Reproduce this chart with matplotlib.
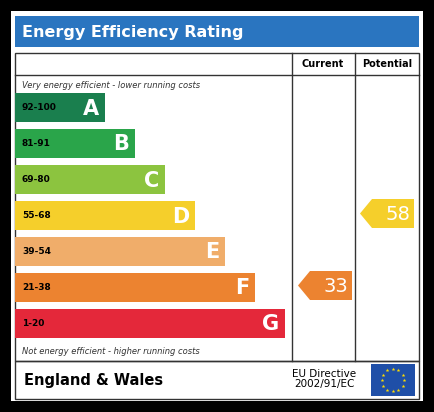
import matplotlib.pyplot as plt
from matplotlib.patches import Rectangle, Polygon
import numpy as np

bands = ['A', 'B', 'C', 'D', 'E', 'F', 'G']
ranges = ['92-100', '81-91', '69-80', '55-68', '39-54', '21-38', '1-20']
colors = ['#1a7f4e', '#2aa54a', '#8cc43f', '#f5cf2b', '#f0ad6a', '#ec8330', '#e4283a']
current = 33
potential = 58
cur_band = 5   # F
pot_band = 3   # D

fig = plt.figure(figsize=(4.35, 4.12), dpi=100)
fig.patch.set_facecolor('black')
ax = fig.add_axes([0, 0, 1, 1])
ax.set_xlim(0, 435)
ax.set_ylim(412, 0)
ax.axis('off')

# outer white panel
ax.add_patch(Rectangle((11, 11), 412, 390, fc='white', ec='none'))
# title bar
ax.add_patch(Rectangle((15, 16), 404, 31, fc='#2a75c0', ec='none'))
ax.text(22, 32, 'Energy Efficiency Rating', color='white', fontsize=11.5,
        fontweight='bold', va='center', ha='left')

# table frame
lc = '#333333'
ax.add_patch(Rectangle((15, 53), 404, 308, fc='none', ec=lc, lw=1))
ax.add_patch(Rectangle((15, 361), 404, 38, fc='none', ec=lc, lw=1))
ax.plot([15, 419], [75, 75], color=lc, lw=1)
for x in [292, 355]:
    ax.plot([x, x], [53, 361], color=lc, lw=1)
ax.text(323, 64, 'Current', fontsize=7, fontweight='bold', ha='center', va='center')
ax.text(387, 64, 'Potential', fontsize=7, fontweight='bold', ha='center', va='center')

ax.text(22, 85, 'Very energy efficient - lower running costs', fontsize=6,
        style='italic', color='#333333', va='center')
ax.text(22, 351, 'Not energy efficient - higher running costs', fontsize=6,
        style='italic', color='#333333', va='center')

top0, step, h = 93, 36, 29
for i, (b, r, c) in enumerate(zip(bands, ranges, colors)):
    y = top0 + i * step
    right = 105 + i * 30
    ax.add_patch(Rectangle((15, y), right - 15, h, fc=c, ec='none'))
    ax.text(22, y + h / 2, r, fontsize=6.5, fontweight='bold', va='center')
    ax.text(right - 6, y + h / 2 + 1, b, fontsize=15, fontweight='bold',
            color='white', ha='right', va='center')

def arrow(x0, x1, band, val, col):
    y = top0 + band * step - 2
    pts = [(x0, y + h / 2), (x0 + 12, y), (x1, y), (x1, y + h), (x0 + 12, y + h)]
    ax.add_patch(Polygon(pts, closed=True, fc=col, ec='none'))
    ax.text(x1 - 4, y + h / 2 + 1, str(val), fontsize=14, color='white',
            ha='right', va='center')

arrow(298, 352, cur_band, current, colors[cur_band])
arrow(360, 414, pot_band, potential, colors[pot_band])

ax.text(24, 380, 'England & Wales', fontsize=10.5, fontweight='bold', va='center')
ax.text(324, 379, 'EU Directive\n2002/91/EC', fontsize=7.5, ha='center',
        va='center', linespacing=1.1)
ax.add_patch(Rectangle((371, 364), 44, 32, fc='#1f4fa8', ec='none'))
ang = np.linspace(0, 2 * np.pi, 12, endpoint=False)
ax.scatter(393 + 11 * np.cos(ang), 380 + 11 * np.sin(ang), marker='*', s=8,
           color='#ffdd00', lw=0)

fig.savefig('out.png', dpi=100, facecolor='black')
